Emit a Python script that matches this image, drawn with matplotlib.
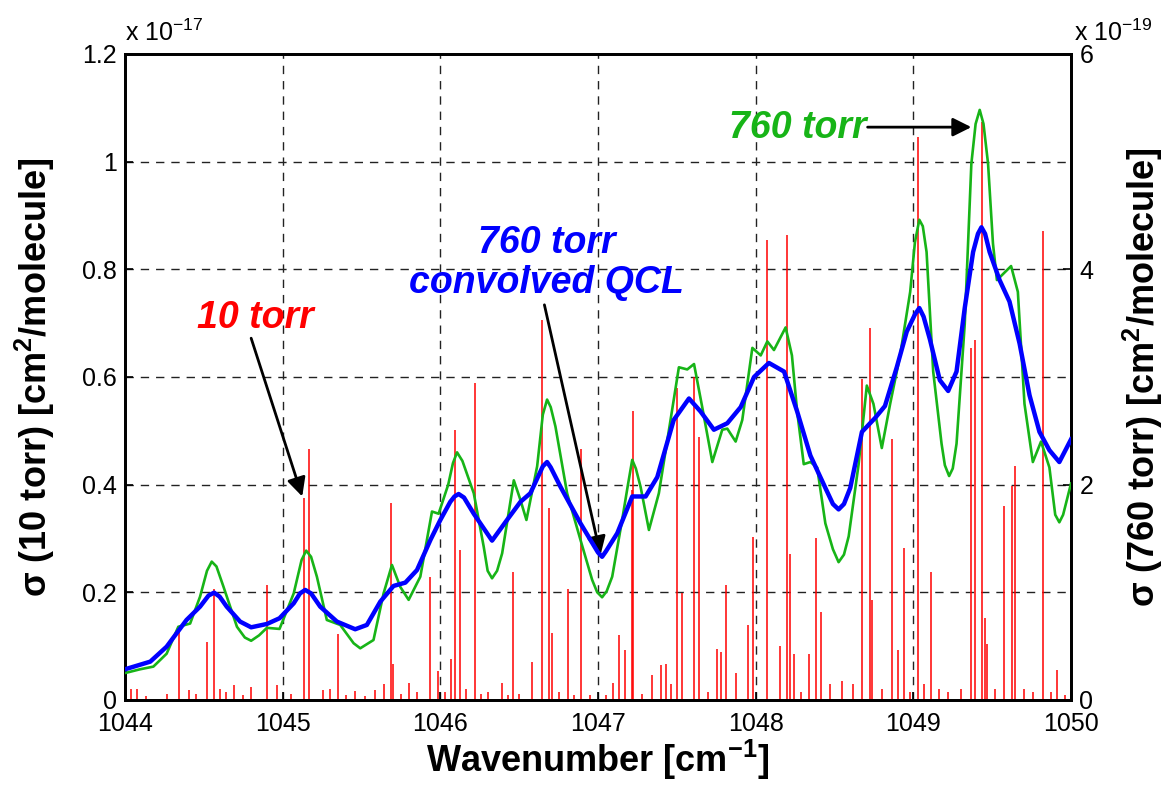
import numpy as np
import matplotlib
matplotlib.use('Agg')
import matplotlib.pyplot as plt

plt.rcParams['font.family'] = ['Liberation Sans', 'DejaVu Sans']
plt.rcParams['mathtext.default'] = 'regular'

# 10 torr line spectrum (x 1e-17 cm^2/molecule)
red_x = [1044.038, 1044.078, 1044.13, 1044.264, 1044.345, 1044.405, 1044.45, 1044.52, 1044.566,
         1044.603, 1044.64, 1044.694, 1044.75, 1044.80, 1044.90, 1044.967, 1045.05, 1045.134,
         1045.166, 1045.253, 1045.30, 1045.354, 1045.40, 1045.46, 1045.52, 1045.587, 1045.64,
         1045.686, 1045.70, 1045.75, 1045.799, 1045.85, 1045.936, 1045.985, 1046.03, 1046.068,
         1046.095, 1046.127, 1046.16, 1046.218, 1046.26, 1046.30, 1046.392, 1046.43, 1046.461,
         1046.50, 1046.582, 1046.645, 1046.688, 1046.709, 1046.75, 1046.81, 1046.85, 1046.893,
         1046.95, 1047.05, 1047.096, 1047.136, 1047.174, 1047.213, 1047.223, 1047.28, 1047.343,
         1047.397, 1047.429, 1047.46, 1047.498, 1047.534, 1047.609, 1047.64, 1047.70, 1047.756,
         1047.777, 1047.813, 1047.873, 1047.951, 1047.983, 1048.074, 1048.154, 1048.20, 1048.217,
         1048.246, 1048.29, 1048.337, 1048.383, 1048.413, 1048.47, 1048.55, 1048.62, 1048.674,
         1048.722, 1048.737, 1048.80, 1048.863, 1048.90, 1048.939, 1048.98, 1049.03, 1049.07,
         1049.112, 1049.16, 1049.22, 1049.30, 1049.364, 1049.394, 1049.436, 1049.453, 1049.47,
         1049.52, 1049.573, 1049.625, 1049.648, 1049.70, 1049.76, 1049.823, 1049.87, 1049.912,
         1049.96]
red_h = [0.02, 0.021, 0.008, 0.012, 0.136, 0.019, 0.012, 0.108, 0.207,
         0.02, 0.015, 0.028, 0.01, 0.024, 0.214, 0.028, 0.012, 0.375,
         0.466, 0.019, 0.02, 0.122, 0.01, 0.016, 0.008, 0.019, 0.03,
         0.365, 0.067, 0.012, 0.032, 0.015, 0.228, 0.054, 0.015, 0.076,
         0.502, 0.279, 0.02, 0.588, 0.012, 0.015, 0.031, 0.01, 0.238,
         0.012, 0.071, 0.706, 0.356, 0.124, 0.015, 0.207, 0.01, 0.466,
         0.01, 0.01, 0.031, 0.121, 0.093, 0.39, 0.536, 0.012, 0.046,
         0.065, 0.067, 0.03, 0.58, 0.198, 0.6, 0.489, 0.015, 0.094,
         0.09, 0.214, 0.05, 0.139, 0.303, 0.855, 0.10, 0.864, 0.271,
         0.086, 0.015, 0.086, 0.301, 0.164, 0.03, 0.035, 0.03, 0.596,
         0.691, 0.186, 0.02, 0.485, 0.093, 0.283, 0.015, 1.046, 0.03,
         0.238, 0.02, 0.015, 0.02, 0.654, 0.669, 1.074, 0.152, 0.104,
         0.02, 0.36, 0.398, 0.435, 0.02, 0.015, 0.871, 0.015, 0.056,
         0.01]

# 760 torr cross section (x 1e-19)
green_x = [1044.00, 1044.095, 1044.18, 1044.264, 1044.338, 1044.413, 1044.476, 1044.52, 1044.55,
           1044.58, 1044.625, 1044.71, 1044.76, 1044.80, 1044.85, 1044.90, 1044.98, 1045.07,
           1045.12, 1045.149, 1045.18, 1045.217, 1045.28, 1045.365, 1045.45, 1045.492, 1045.576,
           1045.64, 1045.693, 1045.746, 1045.799, 1045.873, 1045.947, 1045.989, 1046.05, 1046.08,
           1046.106, 1046.14, 1046.212, 1046.275, 1046.30, 1046.328, 1046.36, 1046.392, 1046.466,
           1046.508, 1046.546, 1046.614, 1046.65, 1046.677, 1046.70, 1046.73, 1046.804, 1046.889,
           1046.963, 1046.995, 1047.026, 1047.055, 1047.09, 1047.153, 1047.19, 1047.217, 1047.24,
           1047.27, 1047.323, 1047.386, 1047.46, 1047.513, 1047.566, 1047.609, 1047.661, 1047.725,
           1047.788, 1047.82, 1047.873, 1047.915, 1047.979, 1048.032, 1048.074, 1048.116, 1048.19,
           1048.23, 1048.263, 1048.305, 1048.347, 1048.39, 1048.442, 1048.49, 1048.526, 1048.56,
           1048.59, 1048.653, 1048.705, 1048.747, 1048.80, 1048.853, 1048.916, 1048.98, 1049.01,
           1049.038, 1049.06, 1049.084, 1049.126, 1049.179, 1049.20, 1049.227, 1049.25, 1049.274,
           1049.326, 1049.368, 1049.395, 1049.421, 1049.445, 1049.474, 1049.505, 1049.53, 1049.558,
           1049.62, 1049.663, 1049.705, 1049.758, 1049.81, 1049.863, 1049.90, 1049.926, 1049.95,
           1050.0]
green_y = [0.25, 0.285, 0.31, 0.43, 0.68, 0.71, 0.96, 1.2, 1.285,
           1.24, 1.05, 0.68, 0.58, 0.55, 0.6, 0.67, 0.66, 0.99,
           1.3, 1.387, 1.33, 1.145, 0.743, 0.697, 0.527, 0.48, 0.557,
           0.99, 1.254, 1.05, 0.93, 1.145, 1.75, 1.73, 2.0, 2.2,
           2.30, 2.22, 1.92, 1.424, 1.2, 1.13, 1.2, 1.362, 2.04,
           1.858, 1.672, 2.17, 2.65, 2.79, 2.72, 2.54, 1.92, 1.486,
           1.115, 1.0, 0.954, 1.01, 1.145, 1.672, 2.0, 2.23, 2.15,
           1.98, 1.579, 1.92, 2.60, 3.09, 3.07, 3.12, 2.72, 2.21,
           2.51, 2.52, 2.40, 2.60, 3.27, 3.20, 3.33, 3.25, 3.46,
           3.20, 2.68, 2.19, 2.21, 2.16, 1.64, 1.4, 1.28, 1.35,
           1.52, 2.19, 2.92, 2.75, 2.34, 2.75, 3.20, 3.79, 4.25,
           4.46, 4.4, 4.16, 3.05, 2.38, 2.18, 2.08, 2.15, 2.38,
           3.49, 4.98, 5.35, 5.48, 5.35, 4.98, 4.24, 3.90, 3.94,
           4.03, 3.79, 2.75, 2.21, 2.40, 2.16, 1.72, 1.65, 1.72,
           2.01]

# 760 torr convolved with QCL line shape (x 1e-19)
blue_x = [1044.00, 1044.16, 1044.264, 1044.39, 1044.476, 1044.53, 1044.565, 1044.60, 1044.645,
          1044.73, 1044.80, 1044.90, 1044.98, 1045.07, 1045.11, 1045.143, 1045.18, 1045.238,
          1045.344, 1045.46, 1045.534, 1045.619, 1045.703, 1045.778, 1045.852, 1045.937, 1046.0,
          1046.063, 1046.09, 1046.116, 1046.15, 1046.212, 1046.328, 1046.423, 1046.508, 1046.571,
          1046.65, 1046.677, 1046.70, 1046.762, 1046.889, 1047.0, 1047.026, 1047.05, 1047.122,
          1047.217, 1047.302, 1047.376, 1047.48, 1047.577, 1047.65, 1047.735, 1047.82, 1047.905,
          1047.99, 1048.084, 1048.18, 1048.263, 1048.347, 1048.442, 1048.49, 1048.526, 1048.56,
          1048.60, 1048.674, 1048.758, 1048.82, 1048.895, 1048.958, 1049.01, 1049.038, 1049.065,
          1049.105, 1049.168, 1049.221, 1049.274, 1049.326, 1049.379, 1049.41, 1049.432, 1049.455,
          1049.484, 1049.547, 1049.61, 1049.674, 1049.737, 1049.80, 1049.863, 1049.926, 1050.0]
blue_y = [0.285, 0.356, 0.495, 0.743, 0.867, 0.97, 0.997, 0.96, 0.867,
          0.728, 0.675, 0.706, 0.759, 0.898, 0.99, 1.022, 0.99, 0.867,
          0.728, 0.657, 0.697, 0.913, 1.059, 1.09, 1.207, 1.486, 1.672,
          1.84, 1.89, 1.913, 1.88, 1.73, 1.48, 1.672, 1.84, 1.92,
          2.17, 2.21, 2.16, 1.98, 1.64, 1.37, 1.33, 1.38, 1.548,
          1.89, 1.89, 2.07, 2.60, 2.80, 2.68, 2.51, 2.57, 2.72,
          3.00, 3.13, 3.05, 2.68, 2.27, 1.97, 1.82, 1.77, 1.82,
          1.97, 2.49, 2.62, 2.73, 3.09, 3.42, 3.58, 3.64, 3.56,
          3.35, 2.97, 2.87, 3.05, 3.64, 4.16, 4.33, 4.39, 4.33,
          4.16, 3.90, 3.70, 3.31, 2.83, 2.49, 2.32, 2.21, 2.42]

xticks = [1044, 1045, 1046, 1047, 1048, 1049, 1050]
left_ticks = [0, 0.2, 0.4, 0.6, 0.8, 1.0, 1.2]
left_labels = ['0', '0.2', '0.4', '0.6', '0.8', '1', '1.2']
right_ticks = [0, 2, 4, 6]

fig = plt.figure(figsize=(11.64, 7.85), dpi=100)
ax = fig.add_axes([0.1074, 0.1083, 0.8127, 0.823])
ax2 = ax.twinx()

ax.vlines(red_x, 0, red_h, color='#ff0000', lw=1.1, zorder=2)
ax2.plot(green_x, green_y, color='#17b417', lw=1.9, zorder=3)
ax2.plot(blue_x, blue_y, color='#0000ff', lw=3.2, zorder=4)

ax.set_xlim(1044, 1050)
ax.set_ylim(0, 1.2)
ax2.set_ylim(0, 6)
ax.set_xticks(xticks)
ax.set_xticklabels([str(t) for t in xticks])
ax.set_yticks(left_ticks)
ax.set_yticklabels(left_labels)
ax2.set_yticks(right_ticks)
ax2.set_yticklabels([str(t) for t in right_ticks])

ax.grid(True, color='#222222', linestyle=(0, (6, 5)), lw=1.0)
ax.set_axisbelow(True)

for a in (ax, ax2):
    a.tick_params(direction='in', length=6, width=1.2, labelsize=18, pad=6)
    for s in a.spines.values():
        s.set_linewidth(2.0)
ax.tick_params(axis='x', pad=9)

ax.set_xlabel('Wavenumber [cm$^{-1}$]', fontsize=26, fontweight='bold', labelpad=1)
ax.set_ylabel('σ (10 torr) [cm$^{2}$/molecule]', fontsize=26, fontweight='bold', labelpad=18)
ax2.set_ylabel('σ (760 torr) [cm$^{2}$/molecule]', fontsize=26, fontweight='bold', labelpad=20)

ax.text(0.0, 1.012, 'x 10$^{-17}$', transform=ax.transAxes, fontsize=18, ha='left', va='bottom')
ax.text(1.003, 1.012, 'x 10$^{-19}$', transform=ax.transAxes, fontsize=18, ha='left', va='bottom')

arrow = dict(arrowstyle='-|>', color='k', lw=2.0, mutation_scale=28, shrinkA=0, shrinkB=0)

ax.text(1044.825, 0.71, '10 torr', color='#ff0000', fontsize=27, fontweight='bold',
        fontstyle='italic', ha='center', va='center')
ax.annotate('', xy=(1045.124, 0.378), xytext=(1044.80, 0.672), arrowprops=arrow)

ax.text(1046.673, 0.811, '760 torr\nconvolved QCL', color='#0000ff', fontsize=27,
        fontweight='bold', fontstyle='italic', ha='center', va='center', linespacing=1.15)
ax.annotate('', xy=(1047.016, 0.269), xytext=(1046.66, 0.734), arrowprops=arrow)

ax.text(1048.705, 1.062, '760 torr', color='#17b417', fontsize=27, fontweight='bold',
        fontstyle='italic', ha='right', va='center')
ax.annotate('', xy=(1049.368, 1.064), xytext=(1048.71, 1.064), arrowprops=arrow)

fig.savefig('out.png', dpi=100)
